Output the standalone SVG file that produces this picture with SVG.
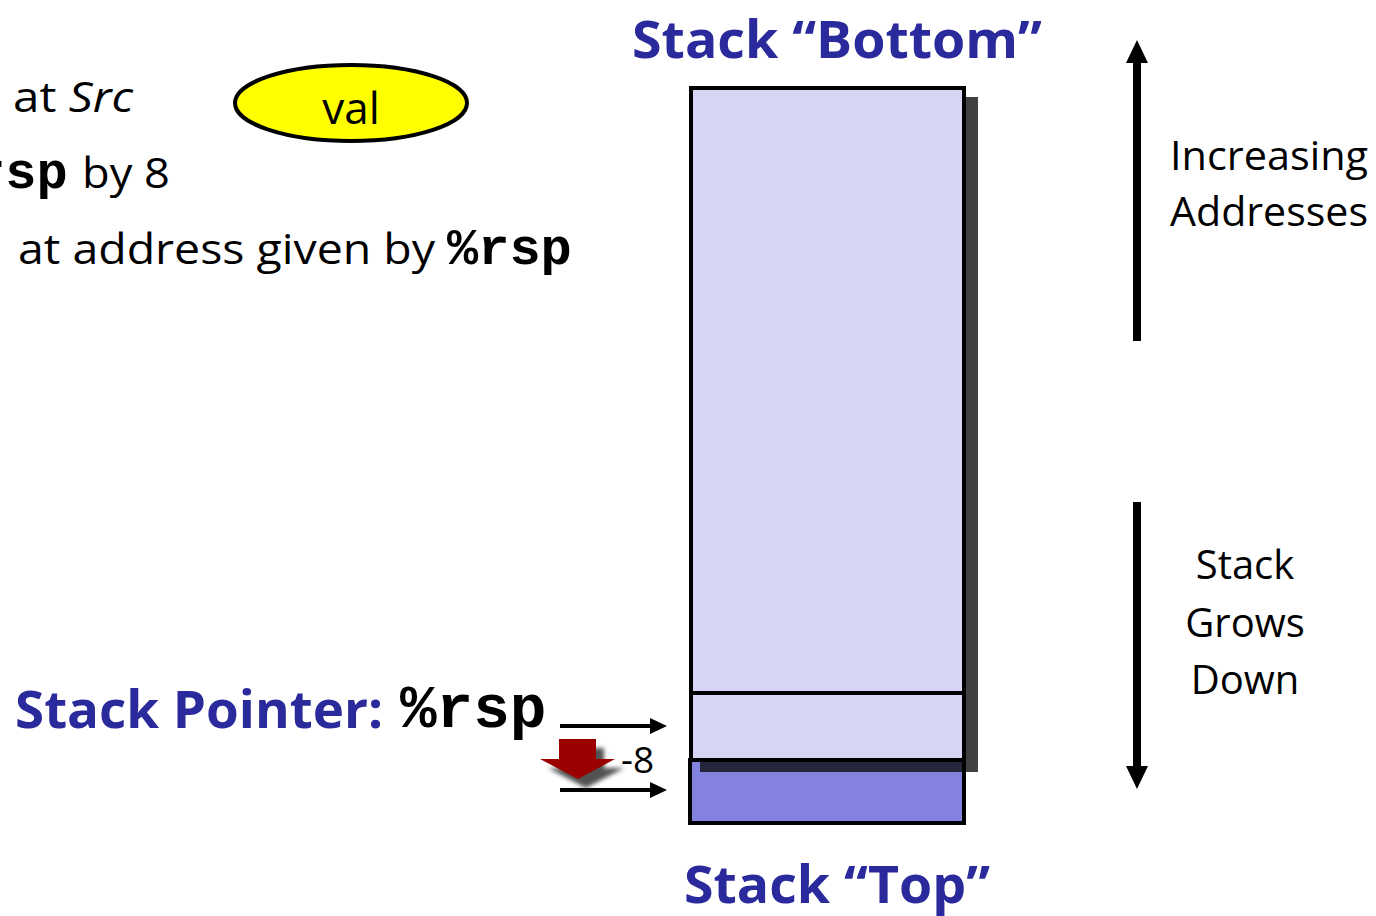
<svg xmlns="http://www.w3.org/2000/svg" width="1376" height="916" viewBox="0 0 1376 916">
<style>
.t{font-family:"Open Sans","Noto Sans",sans-serif;fill:#000}
.h{font-family:"Open Sans","Noto Sans",sans-serif;font-weight:bold;fill:#2A2A9C}
.m{font-family:"Liberation Mono","Courier New",monospace;font-weight:bold;fill:#000}
.conn{stroke:#000;stroke-width:4;fill:none}
.big{stroke:#000;stroke-width:8;fill:none}
.head{fill:#000}
</style>
<defs>
<filter id="blur" x="-30%" y="-30%" width="160%" height="160%"><feGaussianBlur stdDeviation="2"/></filter>
</defs>
<rect width="1376" height="916" fill="#fff"/>

<g id="text-lines">
<text class="t" x="13" y="112" font-size="42" textLength="120" lengthAdjust="spacingAndGlyphs">at <tspan font-style="italic">Src</tspan></text>
<text class="m" x="-26" y="188" font-size="52">rsp</text>
<text class="t" x="82" y="188" font-size="42" textLength="88" lengthAdjust="spacingAndGlyphs">by 8</text>
<text class="t" x="18" y="264" font-size="42" textLength="417" lengthAdjust="spacingAndGlyphs">at address given by</text>
<text class="m" x="447" y="264" font-size="52">%rsp</text>
</g>

<g id="val">
<ellipse cx="351" cy="103" rx="116" ry="38" fill="#FFFF00" stroke="#000" stroke-width="4"/>
<text class="t" x="351" y="124" font-size="44" text-anchor="middle">val</text>
</g>

<g id="stack-bottom-label">
<text class="h" x="632" y="58" font-size="52" textLength="410" lengthAdjust="spacingAndGlyphs">Stack “Bottom”</text>
</g>

<g id="stack">
<rect x="965" y="97" width="13" height="675" fill="#404040"/>
<rect x="691" y="88" width="273" height="672" fill="#D6D6F4" stroke="#000" stroke-width="4"/>
<line x1="691" y1="693" x2="964" y2="693" class="conn"/>
</g>

<g id="new-slot">
<rect x="690" y="760" width="274" height="63" fill="#8383DF" stroke="#000" stroke-width="4"/>
<rect x="700" y="762" width="262" height="10" fill="#25253C"/>
</g>

<g id="stack-top-label">
<text class="h" x="684" y="903" font-size="52" textLength="306" lengthAdjust="spacingAndGlyphs">Stack “Top”</text>
</g>

<g id="stack-pointer-label">
<text class="h" x="15" y="728" font-size="52" textLength="368" lengthAdjust="spacingAndGlyphs">Stack Pointer:</text>
<text class="m" x="400" y="727" font-size="61">%rsp</text>
</g>

<g id="connectors">
<line x1="560" y1="726" x2="652" y2="726" class="conn"/>
<path class="head" d="M650,718 L667,726 L650,734 z"/>
<line x1="560" y1="790" x2="652" y2="790" class="conn"/>
<path class="head" d="M650,782 L667,790 L650,798 z"/>
<line x1="1137" y1="341" x2="1137" y2="62" class="big"/>
<path class="head" d="M1126,63 L1137,40 L1148,63 z"/>
<line x1="1137" y1="502" x2="1137" y2="768" class="big"/>
<path class="head" d="M1126,766 L1137,789 L1148,766 z"/>
</g>

<g id="minus8">
<path d="M568,748 L604,748 L604,768 L624,768 L586,788 L548,768 L568,768 z" fill="#404040" opacity="0.9" filter="url(#blur)"/>
<path d="M559,739 L596,739 L596,759 L615,759 L578,779 L540,759 L559,759 z" fill="#9B0000"/>
<text class="t" x="621" y="773" font-size="37">-8</text>
</g>

<g id="right-labels">
<text class="t" x="1170" y="170" font-size="40" textLength="198" lengthAdjust="spacingAndGlyphs">Increasing</text>
<text class="t" x="1170" y="226" font-size="40" textLength="198" lengthAdjust="spacingAndGlyphs">Addresses</text>
<text class="t" x="1245" y="579" font-size="40" text-anchor="middle">Stack</text>
<text class="t" x="1245" y="637" font-size="40" text-anchor="middle">Grows</text>
<text class="t" x="1245" y="694" font-size="40" text-anchor="middle">Down</text>
</g>
</svg>
